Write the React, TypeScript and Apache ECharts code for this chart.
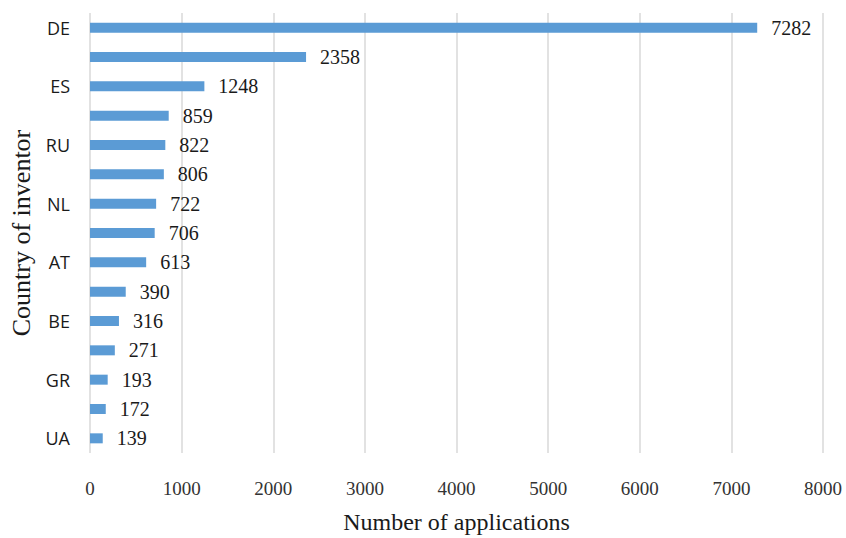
import React, { useEffect, useRef } from "react";
import * as echarts from "echarts";

// Applications by country of inventor, largest first
const countries = [
  "DE", "FR", "ES", "IT", "RU", "PL", "NL", "CH",
  "AT", "SE", "BE", "CZ", "GR", "FI", "UA",
];
const applications = [
  7282, 2358, 1248, 859, 822, 806, 722, 706,
  613, 390, 316, 271, 193, 172, 139,
];
const xTicks = { min: 0, max: 8000, interval: 1000 };

const serif = "'Liberation Serif', 'DejaVu Serif', serif";
const sans = "'Open Sans', 'Noto Sans', sans-serif";

export default function App() {
  const ref = useRef<HTMLDivElement>(null);

  useEffect(() => {
    if (!ref.current) return;
    const chart = echarts.init(ref.current, undefined, { renderer: "svg" });
    chart.setOption({
      animation: false,
      backgroundColor: "#ffffff",
      grid: {
        left: 90,
        right: 23,
        top: 13,
        bottom: 85,
        containLabel: false,
        outerBoundsMode: "none",
      },
      xAxis: {
        type: "value",
        min: xTicks.min,
        max: xTicks.max,
        interval: xTicks.interval,
        name: "Number of applications",
        nameLocation: "middle",
        nameGap: 57,
        nameTextStyle: { fontFamily: serif, fontSize: 24, color: "#1a1a1a" },
        axisLine: { show: false },
        axisTick: { show: false },
        axisLabel: {
          fontFamily: serif,
          fontSize: 19,
          color: "#333333",
          margin: 26,
          formatter: (v: number) => String(v),
        },
        splitLine: { show: true, lineStyle: { color: "#d9d9d9", width: 1.5 } },
      },
      yAxis: {
        type: "category",
        inverse: true,
        data: countries,
        name: "Country of inventor",
        nameLocation: "middle",
        nameGap: 54,
        nameTextStyle: { fontFamily: serif, fontSize: 26, color: "#1a1a1a" },
        axisLine: { show: false },
        axisTick: { show: false },
        axisLabel: { interval: 1, fontFamily: sans, fontSize: 18, color: "#1a1a1a", margin: 20 },
        splitLine: { show: false },
      },
      series: [
        {
          type: "bar",
          data: applications,
          barWidth: 10,
          itemStyle: { color: "#5b9bd5" },
          label: {
            show: true,
            position: "right",
            distance: 14,
            fontFamily: serif,
            fontSize: 20,
            color: "#1a1a1a",
          },
        },
      ],
    });
    return () => chart.dispose();
  }, []);

  return (
    <div
      ref={ref}
      style={{ position: "fixed", left: 0, top: 0, width: 846, height: 538 }}
    />
  );
}
